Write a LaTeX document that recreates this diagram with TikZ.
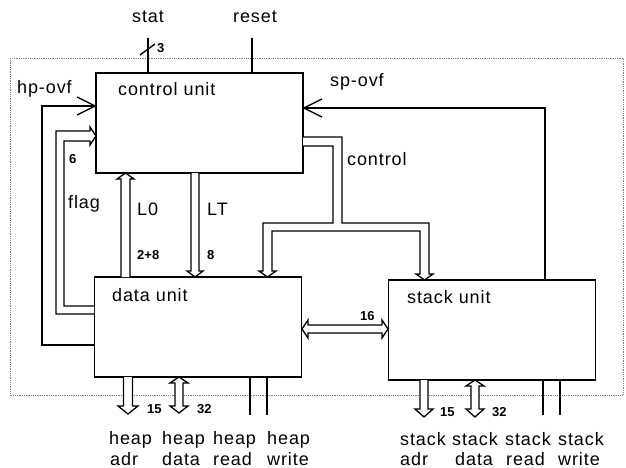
\documentclass[tikz,border=0pt]{standalone}
\usepackage{fontspec}
\setmainfont{Liberation Sans}
\newfontfamily\lbf[LetterSpace=5]{Liberation Sans}
\usetikzlibrary{arrows.meta,calc}
\newcommand\lblfont{\lbf\fontsize{18}{20}\selectfont}
\newcommand\numfont{\bfseries\fontsize{13}{15}\selectfont}
\tikzset{
  unitbox/.style={draw, line width=1.8pt, minimum width=207pt, minimum height=100pt, inner sep=0pt},
  wire/.style={line width=1.4pt},
  bus/.style={line width=1.3pt, fill=white, line join=miter},
  lbl/.style={font=\lblfont, anchor=base west, inner sep=0pt},
  lowlbl/.style={lbl, text depth=0pt},
  num/.style={font=\numfont, anchor=base west, inner sep=0pt},
}
\begin{document}
\begin{tikzpicture}[x=1pt,y=-1pt]
\useasboundingbox (0,0) rectangle (626,468);
% frame
\draw[densely dotted, gray, line width=0.8pt] (10,58) rectangle (623,395);
% boxes
\node[unitbox] (cu) at (199.5,123) {};
\node[unitbox] (du) at (198,327) {};
\node[unitbox] (su) at (492,330) {};
% box labels
\node[lbl] (cul) at (118,96) {control\hspace{6pt}unit};
\node[lbl] (dul) at (112,301) {data\hspace{6pt}unit};
\node[lbl] (sul) at (407,303) {stack\hspace{6pt}unit};
% top inputs
\node[lbl] (stat) at (132,23) {stat};
\node[lbl] (reset) at (233,23) {reset};
\coordinate (statT) at (148,38);
\coordinate (resetT) at (252,38);
\draw[wire] (statT) -- (statT |- cu.north);
\draw[wire] (resetT) -- (resetT |- cu.north);
\coordinate (s1) at (140,55);
\coordinate (s2) at (155,44);
\draw[line width=1.4pt] (s1) -- (s2);
\node[num] (n3) at (157,53) {3};
% hp-ovf
\node[lbl] (hpovf) at (17,94) {hp-ovf};
\coordinate (hp1) at (42,345);
\coordinate (hp2) at (42,106);
\coordinate (hpT) at (hp2 -| cu.west);
\draw[wire] (du.west |- hp1) -- (hp1) -- (hp2) -- (hpT);
\draw[wire, line join=miter] ($(hpT)+(-18,-9)$) -- (hpT) -- ($(hpT)+(-18,9)$);
% sp-ovf
\node[lbl] (spovf) at (330,87) {sp-ovf};
\coordinate (sp1) at (545,108);
\coordinate (spT) at (sp1 -| cu.east);
\draw[wire] (sp1 |- su.north) -- (sp1) -- (spT);
\draw[wire, line join=miter] ($(spT)+(18,-9)$) -- (spT) -- ($(spT)+(18,9)$);
% flag bus
\draw[bus] (94,314) -- (56,314) -- (56,131) -- (90,131) -- (90,127) -- (96,136) -- (90,145) -- (90,141) -- (64,141) -- (64,306) -- (94,306);
\node[num] (n6) at (69,163) {6};
\node[lbl] (flag) at (68,208) {flag};
% L0 bus (up)
\draw[bus] (121,277) -- (121,179) -- (117,179) -- (125.5,173) -- (134,179) -- (130,179) -- (130,277);
\node[lbl] (l0) at (137,215) {L0};
\node[num] (n28) at (137,259) {2+8};
% LT bus (down)
\draw[bus] (191,173) -- (191,271) -- (187,271) -- (195,277) -- (203,271) -- (199,271) -- (199,173);
\node[lbl] (lt) at (207,215) {LT};
\node[num] (n8) at (207,259) {8};
% control bus
\draw[bus] (303,137) -- (342,137) -- (342,223) -- (429,223) -- (429,274) -- (433,274) -- (424.5,280) -- (416,274) -- (420,274) -- (420,231) -- (272,231) -- (272,271) -- (276,271) -- (267.5,277) -- (259,271) -- (263,271) -- (263,223) -- (333,223) -- (333,146) -- (303,146);
\node[lbl] (ctl) at (347,165) {control};
% 16 bus
\draw[bus] (302,329) -- (308,320) -- (308,325) -- (382,325) -- (382,320) -- (388,329) -- (382,338) -- (382,333) -- (308,333) -- (308,338) -- cycle;
\node[num] (n16) at (360,320) {16};
% heap side
\draw[bus] (123.5,377) -- (123.5,406) -- (118,406) -- (128,414) -- (138,406) -- (132.5,406) -- (132.5,377);
\node[num] (n15a) at (147,413) {15};
\draw[bus] (175,383) -- (170,383) -- (179,377) -- (188,383) -- (183,383) -- (183,406) -- (188,406) -- (179,413) -- (170,406) -- (175,406) -- cycle;
\node[num] (n32a) at (197,413) {32};
\coordinate (hr) at (250,415);
\coordinate (hw) at (267,415);
\draw[wire] (hr |- du.south) -- (hr);
\draw[wire] (hw |- du.south) -- (hw);
% stack side
\draw[bus] (420,380) -- (420,409) -- (415,409) -- (424,417) -- (433,409) -- (428,409) -- (428,380);
\node[num] (n15b) at (440,416) {15};
\draw[bus] (471,386) -- (466,386) -- (475,380) -- (484,386) -- (479,386) -- (479,409) -- (484,409) -- (475,417) -- (466,409) -- (471,409) -- cycle;
\node[num] (n32b) at (492,416) {32};
\coordinate (sr) at (543,415);
\coordinate (sw) at (560,415);
\draw[wire] (sr |- su.south) -- (sr);
\draw[wire] (sw |- su.south) -- (sw);
% bottom labels
\node[lbl] (ha1) at (109,444) {heap};
\node[lowlbl] (ha2) at (110,465) {adr};
\node[lbl] (hd1) at (162,444) {heap};
\node[lowlbl] (hd2) at (162,465) {data};
\node[lbl] (hr1) at (213,444) {heap};
\node[lowlbl] (hr2) at (213,465) {read};
\node[lbl] (hw1) at (267,444) {heap};
\node[lowlbl] (hw2) at (267,465) {write};
\node[lbl] (sa1) at (400,445) {stack};
\node[lowlbl] (sa2) at (400,465) {adr};
\node[lbl] (sd1) at (452,445) {stack};
\node[lowlbl] (sd2) at (455,465) {data};
\node[lbl] (sr1) at (505,445) {stack};
\node[lowlbl] (sr2) at (506,465) {read};
\node[lbl] (sw1) at (558,445) {stack};
\node[lowlbl] (sw2) at (558,465) {write};
\end{tikzpicture}
\end{document}
